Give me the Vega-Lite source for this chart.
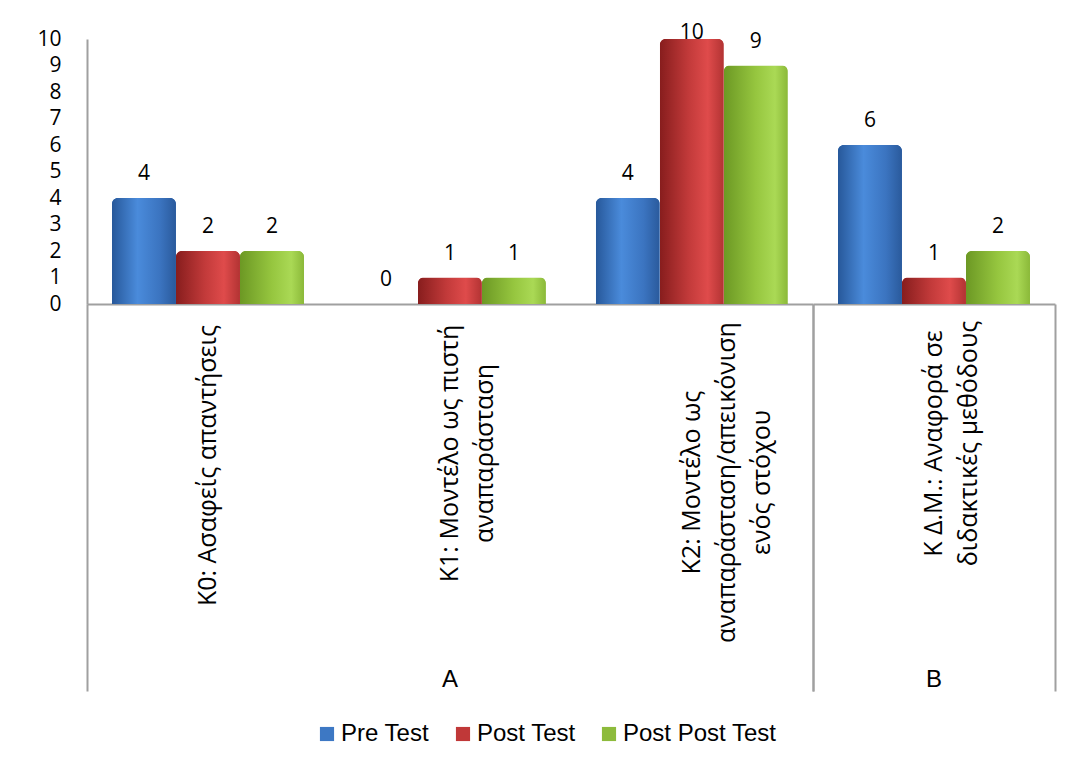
{
  "$schema": "https://vega.github.io/schema/vega-lite/v6.json",
  "padding": {"left": 36, "top": 22, "right": 10, "bottom": 10},
  "background": "white",
  "bounds": "flush",
  "data": {
    "values": [
      {"group": "A", "category": "K0: Ασαφείς απαντήσεις", "series": "Pre Test", "value": 4},
      {"group": "A", "category": "K0: Ασαφείς απαντήσεις", "series": "Post Test", "value": 2},
      {"group": "A", "category": "K0: Ασαφείς απαντήσεις", "series": "Post Post Test", "value": 2},
      {"group": "A", "category": "K1: Μοντέλο ως πιστή|αναπαράσταση", "series": "Pre Test", "value": 0},
      {"group": "A", "category": "K1: Μοντέλο ως πιστή|αναπαράσταση", "series": "Post Test", "value": 1},
      {"group": "A", "category": "K1: Μοντέλο ως πιστή|αναπαράσταση", "series": "Post Post Test", "value": 1},
      {"group": "A", "category": "K2: Μοντέλο ως|αναπαράσταση/απεικόνιση|ενός στόχου", "series": "Pre Test", "value": 4},
      {"group": "A", "category": "K2: Μοντέλο ως|αναπαράσταση/απεικόνιση|ενός στόχου", "series": "Post Test", "value": 10},
      {"group": "A", "category": "K2: Μοντέλο ως|αναπαράσταση/απεικόνιση|ενός στόχου", "series": "Post Post Test", "value": 9},
      {"group": "B", "category": "K Δ.Μ.: Αναφορά σε|διδακτικές μεθόδους", "series": "Pre Test", "value": 6},
      {"group": "B", "category": "K Δ.Μ.: Αναφορά σε|διδακτικές μεθόδους", "series": "Post Test", "value": 1},
      {"group": "B", "category": "K Δ.Μ.: Αναφορά σε|διδακτικές μεθόδους", "series": "Post Post Test", "value": 2}
    ]
  },
  "facet": {
    "column": {
      "field": "group",
      "type": "nominal",
      "header": {
        "title": null,
        "labelOrient": "bottom",
        "labelFont": "Liberation Sans",
        "labelFontSize": 24,
        "labelColor": "#000000",
        "labelPadding": 364
      }
    }
  },
  "spacing": 0,
  "resolve": {"scale": {"x": "independent"}},
  "spec": {
    "width": {"step": 64},
    "height": 265,
    "encoding": {
      "x": {
        "field": "category",
        "type": "nominal",
        "sort": null,
        "scale": {"paddingInner": 0, "paddingOuter": 0},
        "axis": {
          "title": null,
          "labelExpr": "split(datum.label, '|')",
          "labelAngle": -90,
          "labelAlign": "center",
          "labelBaseline": "middle",
          "labelFont": "Open Sans",
          "labelFontSize": 25,
          "labelColor": "#000000",
          "labelLineHeight": 35,
          "labelLimit": 600,
          "labelOverlap": false,
          "labelBound": false,
          "labelPadding": {"expr": "!datum.value ? 0 : indexof(datum.value, 'K0') == 0 ? -226 : indexof(datum.value, 'K1') == 0 ? -238 : indexof(datum.value, 'K2') == 0 ? -209 : -248"},
          "domainColor": "#a0a0a0",
          "domainWidth": 2,
          "tickBand": "extent",
          "tickSize": 387,
          "tickColor": "#a0a0a0",
          "tickWidth": 2,
          "tickOpacity": {"expr": "!datum.value || indexof(datum.value, 'K2') == 0 || indexof(datum.value, 'K Δ') == 0 ? 1 : 0"}
        }
      },
      "xOffset": {
        "field": "series",
        "type": "nominal",
        "sort": ["Pre Test", "Post Test", "Post Post Test"],
        "scale": {"paddingInner": 0, "paddingOuter": 0.39}
      },
      "y": {
        "field": "value",
        "type": "quantitative",
        "scale": {"domain": [0, 10], "nice": false},
        "axis": {
          "title": null,
          "values": [0, 1, 2, 3, 4, 5, 6, 7, 8, 9, 10],
          "grid": false,
          "ticks": false,
          "domainColor": "#a0a0a0",
          "domainWidth": 2,
          "labelFont": "Open Sans",
          "labelFontSize": 21,
          "labelColor": "#000000",
          "labelPadding": 26,
          "labelFlush": false,
          "labelOverlap": false
        }
      }
    },
    "layer": [
      {
        "mark": {"type": "bar", "cornerRadiusTopLeft": 6, "cornerRadiusTopRight": 6},
        "encoding": {
          "color": {
            "field": "series",
            "type": "nominal",
            "sort": ["Pre Test", "Post Test", "Post Post Test"],
            "scale": {
              "domain": ["Pre Test", "Post Test", "Post Post Test"],
              "range": ["#3d78c4", "#c03838", "#8dbb3c"]
            },
            "legend": {
              "title": null,
              "orient": "bottom",
              "direction": "horizontal",
              "symbolType": "square",
              "symbolSize": 200,
              "symbolStrokeWidth": 0,
              "labelFont": "Liberation Sans",
              "labelFontSize": 24,
              "labelColor": "#000000",
              "labelOffset": 2,
              "columnPadding": 21,
              "labelLimit": 400,
              "offset": 30
            }
          }
        }
      },
      {
        "mark": {
          "type": "bar",
          "cornerRadiusTopLeft": 6,
          "cornerRadiusTopRight": 6,
          "fill": {"expr": "datum.series == 'Pre Test' ? {gradient: 'linear', x1: 0, x2: 1, y1: 0, y2: 0, stops: [{offset: 0, color: '#27589a'}, {offset: 0.4, color: '#4a8bdb'}, {offset: 0.75, color: '#3b74c0'}, {offset: 1, color: '#2a5a9c'}]} : datum.series == 'Post Test' ? {gradient: 'linear', x1: 0, x2: 1, y1: 0, y2: 0, stops: [{offset: 0, color: '#871d1d'}, {offset: 0.45, color: '#c23a3a'}, {offset: 0.75, color: '#df4b4b'}, {offset: 1, color: '#b23333'}]} : {gradient: 'linear', x1: 0, x2: 1, y1: 0, y2: 0, stops: [{offset: 0, color: '#6c9824'}, {offset: 0.5, color: '#96c63f'}, {offset: 0.8, color: '#aad955'}, {offset: 1, color: '#8bb939'}]}"}
        },
        "encoding": {}
      },
      {
        "mark": {
          "type": "text",
          "font": "Open Sans",
          "fontSize": 21,
          "color": "#000000",
          "dy": {"expr": "datum.value >= 10 ? -6 : -24"}
        },
        "encoding": {
          "text": {"field": "value", "type": "quantitative"}
        }
      }
    ]
  },
  "config": {
    "view": {"stroke": null},
    "legend": {"layout": {"bottom": {"anchor": "middle"}}}
  }
}
